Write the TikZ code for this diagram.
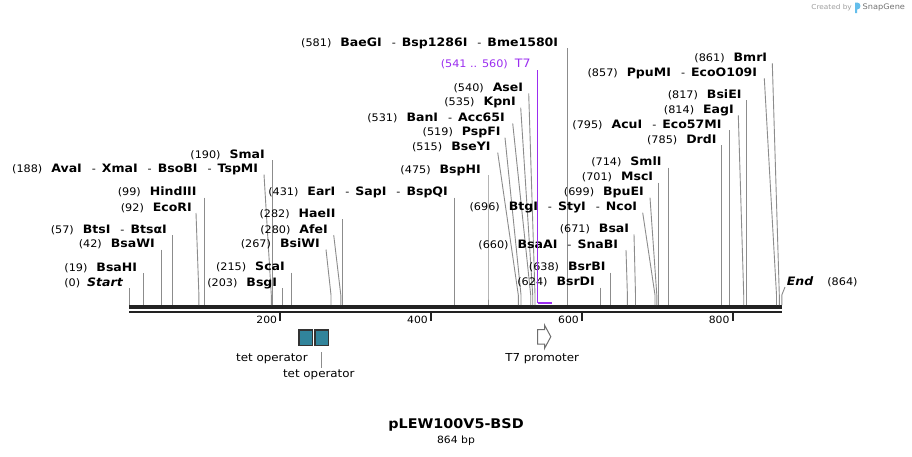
\documentclass[tikz,border=0pt]{standalone}
\usepackage{fontspec}
\setmainfont{DejaVu Sans}[FakeStretch=1.08]
\definecolor{connc}{RGB}{140,140,140}
\definecolor{dnac}{RGB}{34,34,34}
\definecolor{t7c}{RGB}{155,45,240}
\definecolor{tealc}{RGB}{49,132,155}
\definecolor{boxc}{RGB}{51,51,51}
\definecolor{arrc}{RGB}{110,110,110}
\definecolor{logoc}{RGB}{100,190,235}
\newcommand\pnum[1]{{\mdseries\fontsize{10.4}{12}\selectfont #1}}
\newcommand\pname[1]{{\bfseries\fontsize{11.6}{14}\selectfont #1}}
\newcommand\psep{\hspace{10pt}\pnum{-}\hspace{6pt}}
\newcommand\plab[2]{\pnum{#1}\hspace{9pt}\pname{#2}}
\tikzset{
  lbl/.style={inner sep=0pt, anchor=east, text height=8.4pt, text depth=0pt},
  conn/.style={draw=connc, line width=0.9pt},
  dnaline/.style={draw=dnac},
  tickmark/.style={draw=dnac, line width=2pt},
  ticklbl/.style={inner sep=0pt, anchor=east, text height=7.4pt, text depth=0pt, font=\fontsize{10}{12}\selectfont},
  tetbox/.style={draw=boxc, line width=1.2pt, fill=tealc, minimum width=13.2pt, minimum height=15.2pt, inner sep=0pt},
  flab/.style={inner sep=0pt, font=\fontsize{11}{13}\selectfont},
}
\newcommand\penz[6]{%
  \node[lbl] (L#1) at (#2,#3) {#4};
  \coordinate (T#1) at (#5,#3+6);
  \coordinate (B#1) at (#6,295);
  \coordinate (S#1) at (#6,305);
  \draw[conn] (T#1) -- (B#1) -- (S#1);
}
\begin{document}
\begin{tikzpicture}[x=1pt,y=-1pt]
\useasboundingbox (0,0) rectangle (912,456);
\fill[white] (0,0) rectangle (912,456);

% credit
\node[inner sep=0pt, anchor=east, text=black!38, font=\fontsize{6.8}{8}\selectfont] (cred) at (852,7.5) {Created by};
\fill[logoc] (855,13) -- (855,2.5) -- (857.2,2.5) .. controls (861.5,2.5) and (861.5,9.5) .. (857.2,9.5) -- (857,9.5) -- (857,13) -- cycle;
\node[inner sep=0pt, anchor=west, text=black!55, font=\fontsize{7.6}{9}\selectfont] (sgene) at (862.5,7.5) {SnapGene};

% DNA line
\coordinate (D0) at (129.2,307);
\coordinate (D1) at (782.2,307);
\coordinate (E0) at (129.2,311.8);
\coordinate (E1) at (782.2,311.8);
\draw[dnaline, line width=3.4pt] (D0) -- (D1);
\draw[dnaline, line width=2.6pt] (E0) -- (E1);

% ticks
\foreach \v/\xx in {200/280.2,400/431,600/582,800/732.6}{
  \coordinate (tk\v a) at (\xx,312.5);
  \coordinate (tk\v b) at (\xx,321);
  \draw[tickmark] (tk\v a) -- (tk\v b);
  \node[ticklbl] (tl\v) at (\xx-3,319.3) {\v};
}

% Start
\node[lbl] (Lstart) at (123,282) {\pnum{(0)}\hspace{7pt}{\bfseries\itshape\fontsize{11.6}{14}\selectfont Start}};
\coordinate (Tstart) at (129.4,288);
\coordinate (Sstart) at (129.4,305);
\draw[conn] (Tstart) -- (Sstart);

\penz{bsahi}{137.3}{267}{\plab{(19)}{BsaHI}}{143.7}{143.7}
\penz{bsawi}{155}{243.5}{\plab{(42)}{BsaWI}}{161.1}{161.1}
\penz{btsi}{167}{229}{\plab{(57)}{BtsI\psep BtsαI}}{172.4}{172.4}
\penz{ecori}{192}{207}{\plab{(92)}{EcoRI}}{196}{198.9}
\penz{hind}{196.7}{191.5}{\plab{(99)}{HindIII}}{204.1}{204.1}
\penz{ava}{258.3}{168.5}{\plab{(188)}{AvaI\psep XmaI\psep BsoBI\psep TspMI}}{264}{271.3}
\penz{sma}{265}{154}{\plab{(190)}{SmaI}}{272.9}{272.9}
\penz{bsg}{277.3}{282}{\plab{(203)}{BsgI}}{282.7}{282.7}
\penz{sca}{285}{266.7}{\plab{(215)}{ScaI}}{291.7}{291.7}
\penz{bsiwi}{320}{243.5}{\plab{(267)}{BsiWI}}{326}{331}
\penz{afe}{328}{229}{\plab{(280)}{AfeI}}{333.7}{340.8}
\penz{hae}{335.7}{213.3}{\plab{(282)}{HaeII}}{342.3}{342.3}
\penz{ear}{448}{191.5}{\plab{(431)}{EarI\psep SapI\psep BspQI}}{454.8}{454.8}
\penz{bsph}{481}{169}{\plab{(475)}{BspHI}}{488}{488}
\penz{bsey}{490.7}{146.5}{\plab{(515)}{BseYI}}{497.7}{518.3}
\penz{pspf}{500.7}{131.7}{\plab{(519)}{PspFI}}{505}{521}
\penz{ban}{505}{117.3}{\plab{(531)}{BanI\psep Acc65I}}{512.7}{530.7}
\penz{kpn}{516}{101.7}{\plab{(535)}{KpnI}}{520.7}{532.7}
\penz{ase}{523.3}{87.3}{\plab{(540)}{AseI}}{528.7}{535}
\penz{bae}{558.3}{42}{\plab{(581)}{BaeGI\psep Bsp1286I\psep Bme1580I}}{567.5}{567.5}
\penz{bsrd}{595}{281.7}{\plab{(624)}{BsrDI}}{600.4}{600.4}
\penz{bsrb}{605.7}{266.7}{\plab{(638)}{BsrBI}}{610.8}{610.8}
\penz{bsaa}{618.3}{244}{\plab{(660)}{BsaAI\psep SnaBI}}{626}{627.4}
\penz{bsai}{629.3}{228.3}{\plab{(671)}{BsaI}}{634}{635.5}
\penz{btg}{637.3}{206.7}{\plab{(696)}{BtgI\psep StyI\psep NcoI}}{642.7}{655}
\penz{bpue}{644}{191.7}{\plab{(699)}{BpuEI}}{650}{656.8}
\penz{msc}{653.3}{176.7}{\plab{(701)}{MscI}}{658.4}{658.4}
\penz{sml}{661.7}{161.7}{\plab{(714)}{SmlI}}{668.4}{668.4}
\penz{drd}{716.7}{139.3}{\plab{(785)}{DrdI}}{721.8}{721.8}
\penz{acu}{721.7}{124.3}{\plab{(795)}{AcuI\psep Eco57MI}}{729.4}{729.4}
\penz{eag}{734}{109.3}{\plab{(814)}{EagI}}{738.3}{743.7}
\penz{bsie}{741.7}{94}{\plab{(817)}{BsiEI}}{746}{746}
\penz{ppu}{757.3}{72.3}{\plab{(857)}{PpuMI\psep EcoO109I}}{764.3}{776.5}
\penz{bmr}{767.3}{57.3}{\plab{(861)}{BmrI}}{772.3}{779.3}

% End
\node[inner sep=0pt, anchor=west, text height=8.4pt, text depth=0pt] (Lend) at (786.7,281.7) {{\bfseries\itshape\fontsize{11.6}{14}\selectfont End}\hspace{14pt}\pnum{(864)}};
\coordinate (Tend) at (785,287);
\coordinate (Bend) at (781.8,295);
\coordinate (Send) at (781.8,305);
\draw[conn] (Tend) -- (Bend) -- (Send);

% T7 feature
\node[lbl, text=t7c] (Lt7) at (530.7,63.3) {\pnum{(541 .. 560)}\hspace{7pt}{\fontsize{11.6}{14}\selectfont T7}};
\coordinate (Tt7) at (537.5,70);
\coordinate (St7) at (537.5,302.5);
\coordinate (Et7) at (552,302.5);
\draw[draw=t7c, line width=1pt] (Tt7) -- (St7);
\draw[draw=t7c, line width=2pt] (St7) -- (Et7);

% tet operators
\node[tetbox] (tet1) at (305.5,337.5) {};
\node[tetbox] (tet2) at (321.5,337.5) {};
\node[flab] (tet1l) at (271.9,359) {tet operator};
\node[flab] (tet2l) at (318.8,374.5) {tet operator};
\coordinate (tet2a) at (321.3,352.3);
\coordinate (tet2b) at (321.3,367.5);
\draw[conn] (tet2a) -- (tet2b);

% T7 promoter arrow
\draw[draw=arrc, line width=1pt, fill=white] (537.5,329.5) -- (544.5,329.5) -- (544.5,325) -- (550.8,336.7) -- (544.5,348.5) -- (544.5,344) -- (537.5,344) -- cycle;
\node[flab] (t7p) at (542.2,359) {T7 promoter};

% title
\node[inner sep=0pt, font=\bfseries\fontsize{13.3}{16}\selectfont] (title) at (456,425) {pLEW100V5-BSD};
\node[inner sep=0pt, font=\fontsize{10}{12}\selectfont] (bp) at (456,440.5) {864 bp};
\end{tikzpicture}
\end{document}
